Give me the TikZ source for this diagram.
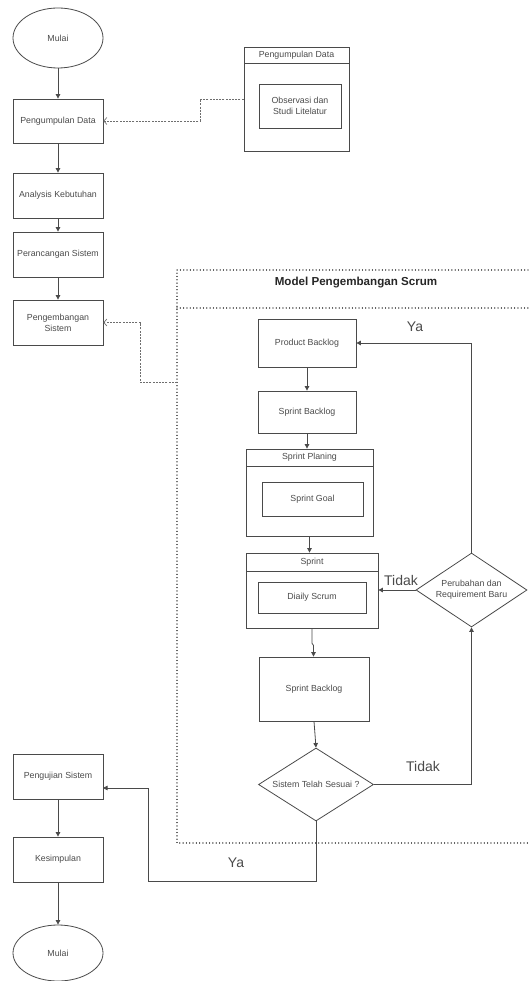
\documentclass[tikz,border=0pt]{standalone}
\usepackage{fontspec}
\setmainfont{Liberation Sans}
\usetikzlibrary{arrows.meta,shapes.geometric}
\definecolor{ln}{HTML}{4A4A4A}
\definecolor{tx}{HTML}{4A4A4A}
\tikzset{
  base/.style={draw=ln, line width=0.8pt, inner sep=1pt, align=center, text=tx,
    font=\fontsize{8.8}{10.8}\selectfont},
  box/.style={base, rectangle},
  oval/.style={base, ellipse},
  dia/.style={base, diamond, aspect=1.55},
  hdr/.style={text=tx, font=\fontsize{8.8}{10.5}\selectfont, inner sep=0pt},
  arr/.style={draw=ln, line width=0.8pt, -{Triangle[length=4.5pt,width=4.5pt]}},
  darr/.style={draw=ln!80, line width=0.7pt, dash pattern=on 2pt off 1.2pt,
    -{Straight Barb[length=3pt,width=7pt]}},
  frame/.style={draw=ln!90!black, line width=1.3pt, dash pattern=on 0.01pt off 3.3pt, line cap=round},
  lbl/.style={text=ln, font=\fontsize{14}{16}\selectfont, inner sep=0pt},
}
\begin{document}
\begin{tikzpicture}[x=1pt,y=-1pt]
\useasboundingbox (0,0) rectangle (528,981);
% left column
\node[oval, minimum width=90pt, minimum height=60pt] (m1) at (58,38) {Mulai};
\node[box, minimum width=90pt, minimum height=44pt] (pd) at (58,121) {Pengumpulan Data};
\node[box, minimum width=90pt, minimum height=45pt] (ak) at (58,195.5) {Analysis Kebutuhan};
\node[box, minimum width=90pt, minimum height=45pt] (ps) at (58,254.5) {Perancangan Sistem};
\node[box, minimum width=90pt, minimum height=45pt] (pgs) at (58,322.5) {Pengembangan\\Sistem};
\node[box, minimum width=90pt, minimum height=45pt] (pj) at (58,776.5) {Pengujian Sistem};
\node[box, minimum width=90pt, minimum height=45pt] (ks) at (58,859.5) {Kesimpulan};
\node[oval, minimum width=90pt, minimum height=56pt] (m2) at (58,953) {Mulai};
\draw[arr] (m1.south) -- (pd.north);
\draw[arr] (pd.south) -- (ak.north);
\draw[arr] (ak.south) -- (ps.north);
\draw[arr] (ps.south) -- (pgs.north);
\draw[arr] (pj.south) -- (ks.north);
\draw[arr] (ks.south) -- (m2.north);
% Pengumpulan Data container
\node[box, minimum width=105pt, minimum height=104pt] (pdc) at (296.5,99) {};
\draw[ln, line width=0.8pt] (244,63) -- (349,63);
\node[hdr] (pdch) at (296.5,55) {Pengumpulan Data};
\node[box, minimum width=82pt, minimum height=44pt] (obs) at (300,106) {Observasi dan\\Studi Litelatur};
\draw[darr] (pdc.west) -- (200,99) |- (pd.east);
% Scrum frame
\draw[frame] (528,270) -- (177,270) -- (177,843) -- (528,843);
\draw[frame] (177,308) -- (528,308);
\node[inner sep=0pt, font=\fontsize{11.6}{14}\selectfont\bfseries, text=black!85] (title) at (356,283) {Model Pengembangan Scrum};
\coordinate (fl) at (177,382);
\draw[darr] (fl) -- (140,382) |- (pgs.east);
% scrum nodes
\node[box, minimum width=98pt, minimum height=48pt] (pb) at (307,343) {Product Backlog};
\node[box, minimum width=98pt, minimum height=42pt] (sb1) at (307,412) {Sprint Backlog};
\node[box, minimum width=127pt, minimum height=87pt] (sp) at (309.5,492.5) {};
\draw[ln, line width=0.8pt] (246,466) -- (373,466);
\node[hdr] (sph) at (309.5,457.5) {Sprint Planing};
\node[box, minimum width=101pt, minimum height=34pt] (sg) at (312.5,499) {Sprint Goal};
\node[box, minimum width=132pt, minimum height=75pt] (spr) at (312,590.5) {};
\draw[ln, line width=0.8pt] (246,571) -- (378,571);
\node[hdr] (sprh) at (312,562) {Sprint};
\node[box, minimum width=108pt, minimum height=31pt] (ds) at (312,597.5) {Diaily Scrum};
\node[box, minimum width=110pt, minimum height=64pt] (sb2) at (314,689) {Sprint Backlog};
\node[dia, minimum width=115pt, minimum height=73pt] (d1) at (316,784.5) {Sistem Telah Sesuai ?};
\node[dia, minimum width=111pt, minimum height=74pt] (d2) at (471.5,590) {Perubahan dan\\Requirement Baru};
\draw[arr] (pb.south) -- (sb1.north);
\draw[arr] (sb1.south) -- (sb1.south |- sp.north);
\draw[arr] (sp.south) -- (sp.south |- spr.north);
\draw[arr] (spr.south) -- ++(0,15) -- ++(1.5,2) -- (sb2.north -| 313.5,0);
\draw[arr] (sb2.south) -- (d1.north);
\draw[arr] (d1.east) -| (d2.south);
\draw[arr] (d2.west) -- (d2.west -| spr.east);
\draw[arr] (d2.north) |- (pb.east);
\coordinate (pjin) at (103,788);
\draw[arr] (d1.south) -- (316,881) -- (148,881) |- (pjin);
% labels
\node[lbl] (ya1) at (415,327) {Ya};
\node[lbl] (td1) at (401,580) {Tidak};
\node[lbl] (td2) at (423,766) {Tidak};
\node[lbl] (ya2) at (236,863) {Ya};
\end{tikzpicture}
\end{document}
